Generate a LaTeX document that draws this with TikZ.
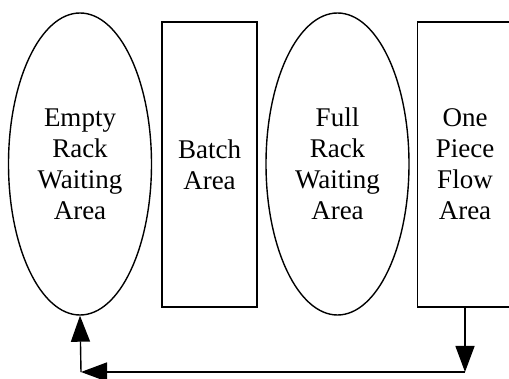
\documentclass[tikz,border=0pt]{standalone}
\usepackage{fontspec}
\setmainfont{Liberation Serif}
\usetikzlibrary{shapes.geometric,arrows.meta}
\begin{document}
\begin{tikzpicture}[x=1pt,y=-1pt,
  area/.style={draw=black,line width=1.4pt,inner sep=0pt,align=center,
    font=\fontsize{27}{31}\selectfont},
  ellarea/.style={area,ellipse,minimum width=143pt,minimum height=302pt},
  rectarea/.style={area,rectangle,minimum width=95pt,minimum height=285pt},
  flow/.style={line width=1.4pt,-{Triangle[length=26pt,width=19pt]}}]
\useasboundingbox (0,0) rectangle (509,379);
\node[ellarea] (empty) at (80,164) {Empty\\Rack\\Waiting\\Area};
\node[rectarea] (batch) at (209.5,164.5) {Batch\\Area};
\node[ellarea] (full) at (337.5,164) {Full\\Rack\\Waiting\\Area};
\node[rectarea] (one) at (465,164.5) {One\\Piece\\Flow\\Area};
\coordinate (c1) at (465,372);
\coordinate (c2) at (81,372);
\draw[flow] (one.south) -- (c1);
\draw[flow] (c1) -- (c2);
\draw[flow] (c2) -- (empty.south);
\end{tikzpicture}
\end{document}
